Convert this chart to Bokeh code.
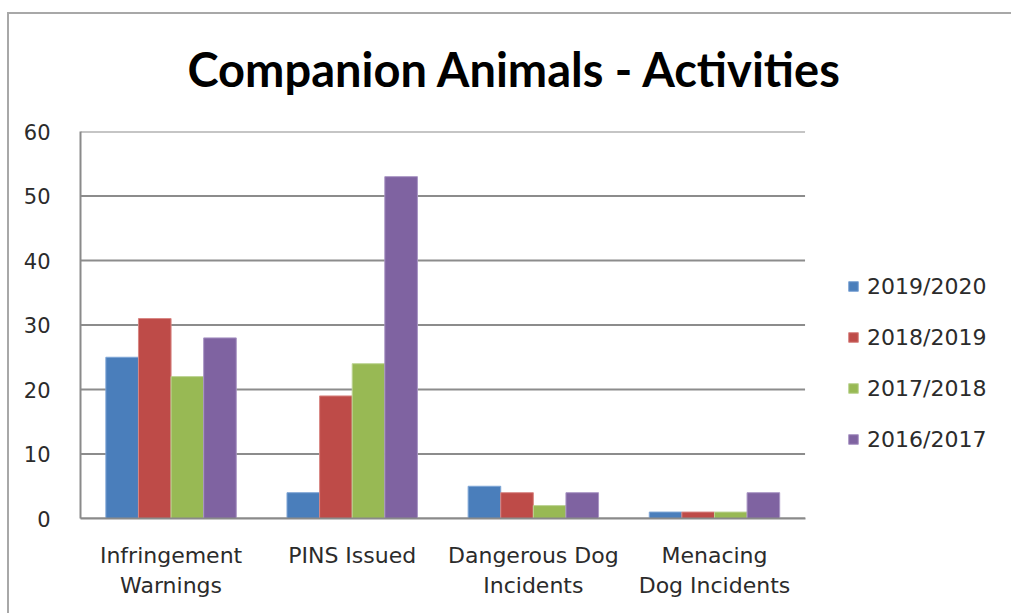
from bokeh.plotting import figure
from bokeh.models import ColumnDataSource, Range1d, Legend, LegendItem, FixedTicker, Title
from bokeh.embed import file_html
from bokeh.resources import INLINE

# Activity categories (x axis) and reporting seasons (series)
categories = ["Infringement\nWarnings", "PINS Issued", "Dangerous Dog\nIncidents", "Menacing\nDog Incidents"]
seasons = ["2019/2020", "2018/2019", "2017/2018", "2016/2017"]

# Counts per season, in category order
v_2019_2020 = [25, 4, 5, 1]
v_2018_2019 = [31, 19, 4, 1]
v_2017_2018 = [22, 24, 2, 1]
v_2016_2017 = [28, 53, 4, 4]

y_ticks = [0, 10, 20, 30, 40, 50, 60]

colors = ["#4A7EBB", "#BE4B48", "#98B954", "#7F63A1"]
edge_colors = ["#7FA6D6", "#D88683", "#BDD494", "#A995C4"]

series = [v_2019_2020, v_2018_2019, v_2017_2018, v_2016_2017]

# Category slots are one unit wide; the plot area continues to the right
# of the last slot to hold the legend.
n_cat = len(categories)
centers = [i + 0.5 for i in range(n_cat)]
bar_w = 0.18
offsets = [-0.27, -0.09, 0.09, 0.27]

FIG_W = 1004
FIG_H = 599
BORDER_L = 71
BORDER_T = 117
BORDER_B = 97
FRAME_W = FIG_W - BORDER_L
SLOT_W = 180.75

p = figure(
    width=FIG_W, height=FIG_H,
    x_range=Range1d(0, FRAME_W / SLOT_W),
    y_range=Range1d(0, 60),
    output_backend="svg",
    toolbar_location=None,
    min_border_left=BORDER_L, min_border_right=0,
    min_border_top=BORDER_T, min_border_bottom=BORDER_B,
)
p.margin = (12, 0, 0, 7)
p.styles = {
    "box-sizing": "content-box",
    "overflow": "hidden",
    "border-left": "2px solid #a8a8a8",
    "border-top": "2px solid #a8a8a8",
}

# Title
p.title.text = "Companion Animals - Activities"
p.title.text_font = "Lato"
p.title.text_font_style = "bold"
p.title.text_font_size = "47px"
p.title.text_color = "#000000"
p.title.align = "left"
p.title.offset = 107
p.title.standoff = 10

# Blank band between the title and the plot area
p.add_layout(Title(text=" ", text_font="Lato", text_font_size="12px", standoff=13), "above")

# Horizontal gridlines across the category slots only
p.segment(x0=[0] * len(y_ticks), x1=[n_cat] * len(y_ticks), y0=y_ticks, y1=y_ticks,
          line_color="#8c8c8c", line_width=2)

renderers = []
for i, vals in enumerate(series):
    src = ColumnDataSource(data=dict(x=[c + offsets[i] for c in centers], top=vals))
    r = p.vbar(x="x", top="top", width=bar_w, source=src,
               fill_color=colors[i], line_color=edge_colors[i], line_width=1)
    renderers.append(r)

# Axes
p.yaxis.ticker = FixedTicker(ticks=y_ticks)
p.yaxis.axis_line_color = "#8a8a8a"
p.yaxis.axis_line_width = 2
p.yaxis.major_tick_line_color = None
p.yaxis.minor_tick_line_color = None
p.yaxis.major_label_text_font = "DejaVu Sans"
p.yaxis.major_label_text_font_size = "21px"
p.yaxis.major_label_text_color = "#2b2b2b"
p.yaxis.major_label_standoff = 24

p.xaxis.ticker = FixedTicker(ticks=centers)
p.xaxis.major_label_overrides = {c: lab for c, lab in zip(centers, categories)}
p.xaxis.bounds = (0, n_cat)
p.xaxis.axis_line_color = "#8a8a8a"
p.xaxis.axis_line_width = 2
p.xaxis.major_tick_line_color = None
p.xaxis.minor_tick_line_color = None
p.xaxis.major_label_text_font = "DejaVu Sans"
p.xaxis.major_label_text_font_size = "22px"
p.xaxis.major_label_text_color = "#2b2b2b"
p.xaxis.major_label_standoff = 18

p.xgrid.grid_line_color = None
p.ygrid.grid_line_color = None
p.outline_line_color = None

legend = Legend(
    items=[LegendItem(label=s, renderers=[r]) for s, r in zip(seasons, renderers)],
    location=(767, 66),
    orientation="vertical",
    padding=0, margin=0, spacing=25,
    glyph_width=12, glyph_height=12, label_height=26,
    label_standoff=8,
    label_text_font="DejaVu Sans", label_text_font_size="22px",
    label_text_color="#2b2b2b",
    border_line_color=None, background_fill_alpha=0,
)
p.add_layout(legend, "center")

open("out.html", "w").write(file_html(p, INLINE))
